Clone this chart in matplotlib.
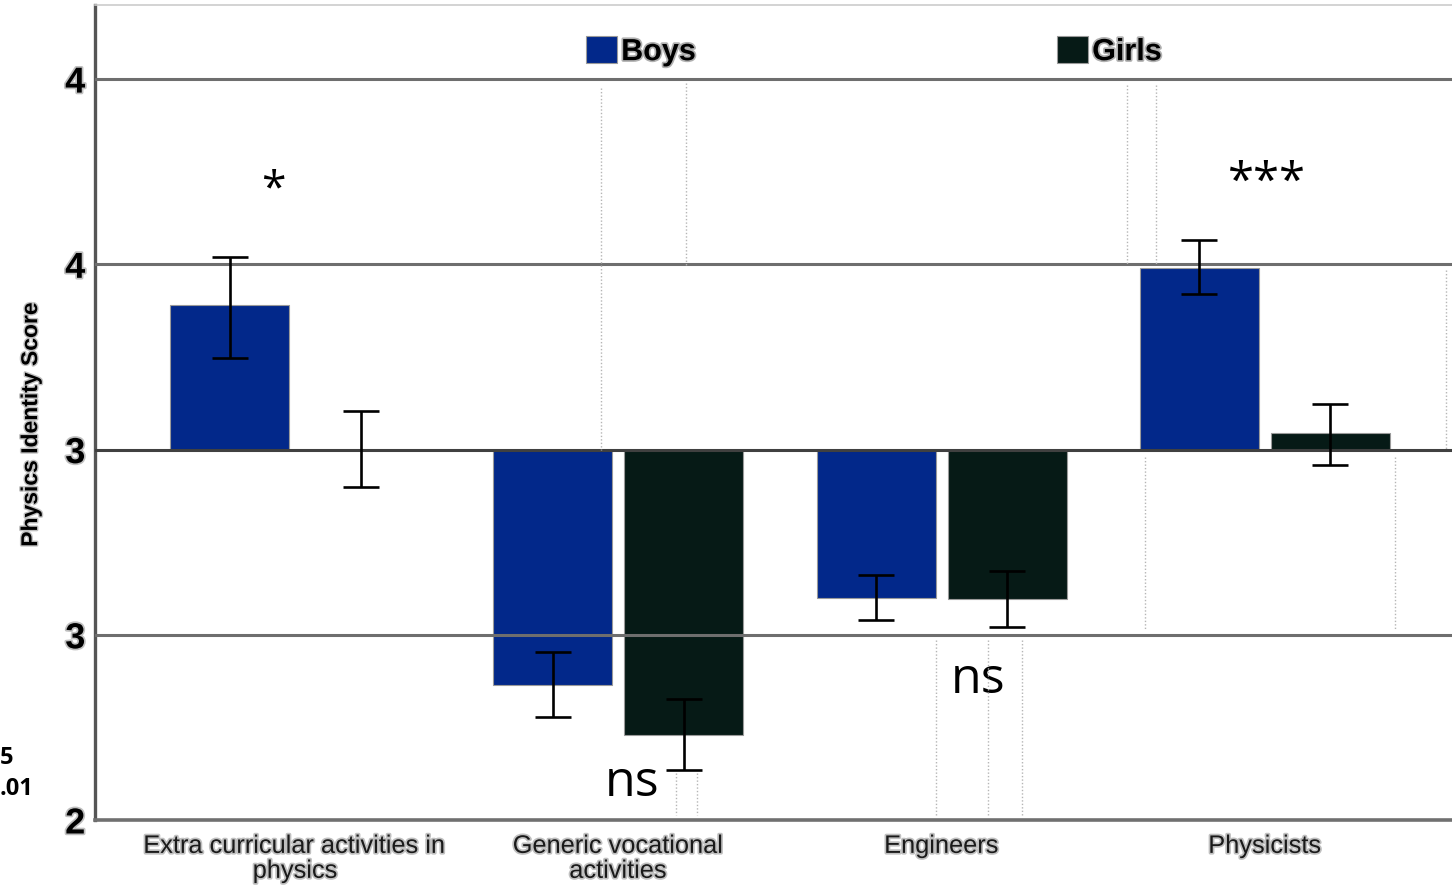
import matplotlib.pyplot as plt
import matplotlib.patheffects as pe
from matplotlib import font_manager
import numpy as np

# ---- data ----
categories = ["Extra curricular activities in\nphysics", "Generic vocational\nactivities",
              "Engineers", "Physicists"]
boys = [3.39, 2.365, 2.60, 3.49]
boys_lo = [3.246, 2.278, 2.541, 3.419]
boys_hi = [3.519, 2.454, 2.662, 3.565]
girls = [3.00, 2.23, 2.597, 3.046]
girls_lo = [2.90, 2.135, 2.522, 2.957]
girls_hi = [3.103, 2.327, 2.673, 3.122]
y_ticks = [2.0, 2.5, 3.0, 3.5, 4.0]
y_ticklabels = ["2", "3", "3", "4", "4"]
signif = ["*", "ns", "ns", "***"]

BOYS_C = "#02288a"
GIRLS_C = "#061a16"

names = {f.name for f in font_manager.fontManager.ttflist}
NARROW = "Liberation Sans Narrow" if "Liberation Sans Narrow" in names else "Liberation Sans"
SHRINK = 1.0 if NARROW.endswith("Narrow") else 0.87
SANS = "Open Sans"

fig = plt.figure(figsize=(14.52, 8.86), dpi=100)
ax = fig.add_axes([95 / 1452, 1 - 820 / 886, 1 - 95 / 1452, 815 / 886])

x = np.arange(len(categories))
w = 0.368
off = 0.2026

def err(vals, lo, hi):
    v = np.array(vals)
    return [v - np.array(lo), np.array(hi) - v]

bb = ax.bar(x - off, np.array(boys) - 3, w, bottom=3, color=BOYS_C,
            edgecolor="#9a9a9a", linewidth=0.8, label="Boys", zorder=3)
gb = ax.bar(x + off, np.array(girls) - 3, w, bottom=3, color=GIRLS_C,
            edgecolor="#9a9a9a", linewidth=0.8, label="Girls", zorder=3)
ax.errorbar(x - off, boys, yerr=err(boys, boys_lo, boys_hi), fmt="none",
            ecolor="black", elinewidth=1.9, capsize=13, capthick=1.9, zorder=4)
ax.errorbar(x + off, girls, yerr=err(girls, girls_lo, girls_hi), fmt="none",
            ecolor="black", elinewidth=1.9, capsize=13, capthick=1.9, zorder=4)

# gridlines
for yv in y_ticks[1:]:
    ax.axhline(yv, color="#404040" if yv == 3.0 else "#6e6e6e", lw=2.2, zorder=3.5)

ax.set_xlim(-0.619, 3.579)
ax.set_ylim(2.0, 4.2)
ax.set_yticks(y_ticks)
ax.set_yticklabels(y_ticklabels, fontsize=26, fontweight="bold", family=["Liberation Sans"])
ax.set_xticks(x)
ax.set_xticklabels(categories, fontsize=21 * SHRINK, family=[NARROW], linespacing=1.05,
                   color="#1a1a1a")
ax.tick_params(axis="both", length=0)
ax.tick_params(axis="x", pad=10)
ax.tick_params(axis="y", pad=7)
for lab in ax.get_xticklabels() + ax.get_yticklabels():
    lab.set_path_effects([pe.withStroke(linewidth=2.5, foreground="#c0c0c0")])

ax.set_ylabel("Physics Identity Score", fontsize=17 * (0.97 if SHRINK < 1 else 1),
              fontweight="bold", family=[NARROW],
              path_effects=[pe.withStroke(linewidth=2, foreground="#c0c0c0")])
ax.yaxis.set_label_coords(-0.039, 0.485)

ax.spines["left"].set_color("#555555")
ax.spines["left"].set_linewidth(2.4)
ax.spines["bottom"].set_color("#707070")
ax.spines["bottom"].set_linewidth(2.6)
ax.spines["top"].set_color("#cccccc")
ax.spines["top"].set_linewidth(1.2)
ax.spines["right"].set_visible(False)

# legends (two separate entries, as in the reference)
for handle, px in [(bb, 586), (gb, 1057)]:
    leg = fig.legend(handles=[handle], loc="upper left",
                     bbox_to_anchor=(px / 1452, 1 - 36 / 886), frameon=False,
                     borderpad=0, borderaxespad=0, handlelength=1.0, handleheight=1.0,
                     handletextpad=0.15, prop={"family": NARROW, "weight": "bold", "size": 22})
    for t in leg.get_texts():
        t.set_path_effects([pe.withStroke(linewidth=2.5, foreground="#b0b0b0")])

# significance markers
sig_x = [-0.068, 1.042, 2.113, 3.006]
sig_y = [3.70, 2.10, 2.378, 3.72]
sig_size = [32, 36, 36, 34]
for sx, sy, s, fs in zip(sig_x, sig_y, signif, sig_size):
    ax.text(sx, sy, s, ha="center", va="center", fontsize=fs, family=[SANS],
            color="black", zorder=5)

# what remains visible of the p-value note at the left edge
fig.text(0, 1 - 758 / 886, "5", ha="left", va="center",
         fontsize=17, fontweight="bold", family=[SANS])
fig.text(0, 1 - 789 / 886, ".01", ha="left", va="center",
         fontsize=17, fontweight="bold", family=[SANS])

# faint dotted artefacts of the original image
dots = [(601, 88, 450), (686, 83, 265), (1127, 85, 265), (1156, 85, 265),
        (1446, 270, 450), (1145, 457, 630), (1395, 457, 630),
        (936, 640, 815), (988, 640, 815), (1022, 640, 815),
        (676, 773, 815), (697, 773, 815)]
for px, y0, y1 in dots:
    fig.add_artist(plt.Line2D([px / 1452, px / 1452], [1 - y0 / 886, 1 - y1 / 886],
                              transform=fig.transFigure, color="#b5b5b5", lw=1,
                              linestyle=(0, (1, 1.5))))

fig.savefig("out.png", dpi=100)
